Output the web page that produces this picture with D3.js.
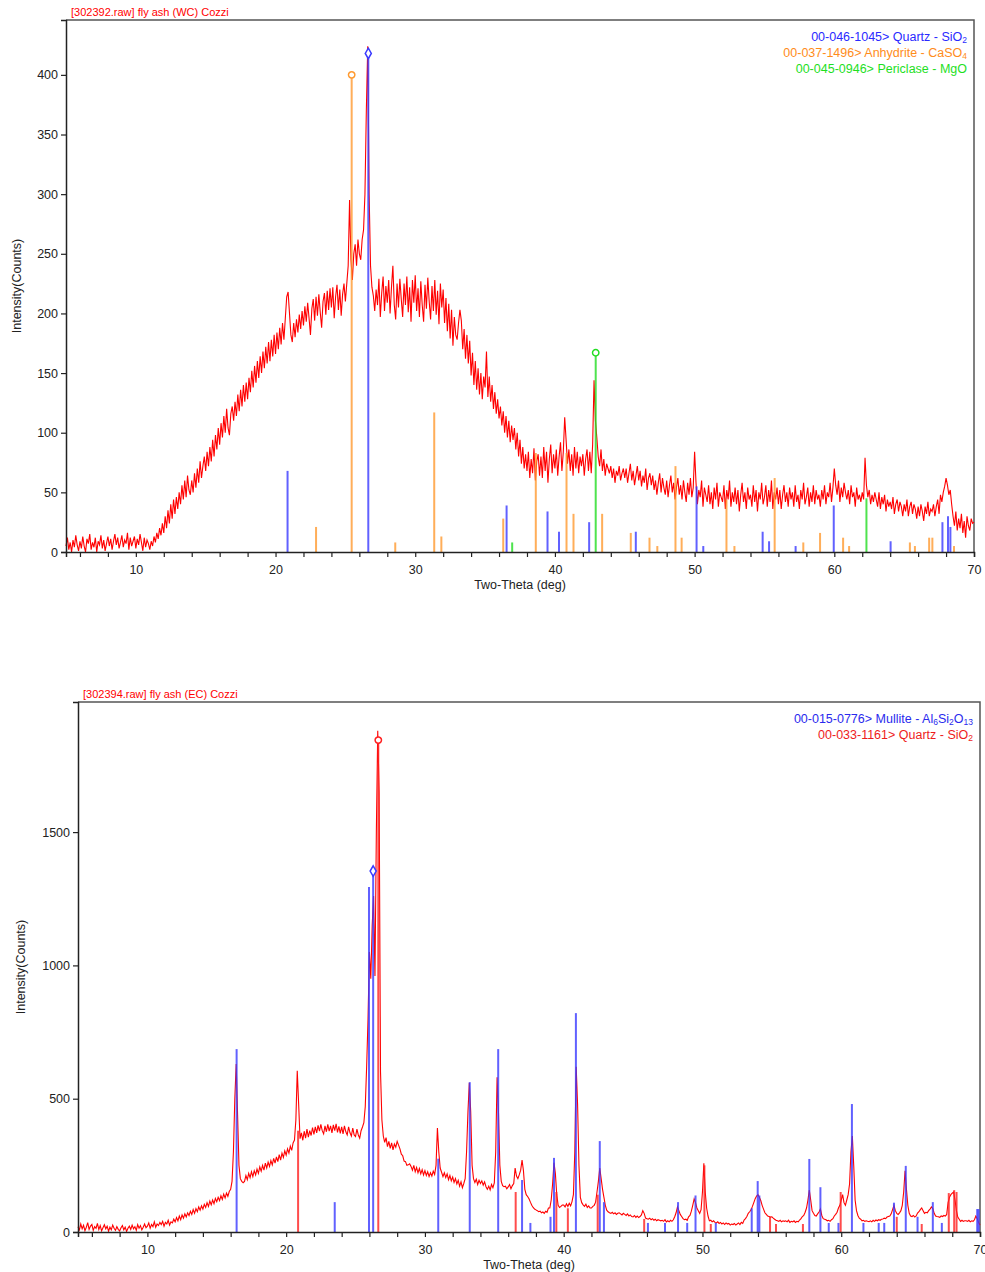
<!DOCTYPE html>
<html>
<head>
<meta charset="utf-8">
<script src="https://cdn.jsdelivr.net/npm/d3@7"></script>
<style>
body { margin: 0; background: #fff; }
text { font-family: "Liberation Sans", Arial, sans-serif; }
</style>
</head>
<body>
<script>
// scans start at 5 deg, one reading every 0.1 deg, up to 70 deg
var thetaStart = 5, thetaStep = 0.1;

// [302392.raw] fly ash (WC) - counts, one row per degree (5..69) + 70
var wcCounts = [
  5,12,2,8,0,10,4,14,6,1,
  9,3,13,5,0,11,7,15,2,8,
  4,12,0,9,6,14,3,10,1,7,
  13,5,11,2,9,15,6,12,3,8,
  14,4,10,7,16,2,12,5,9,13,
  3,11,6,15,8,1,12,4,10,7,
  2,9,5,13,8,16,11,20,14,24,
  16,30,20,35,24,40,28,44,32,46,
  36,50,40,56,44,60,46,64,52,48,
  60,50,66,54,70,58,76,62,72,80,
  68,84,72,88,76,94,80,98,86,104,
  90,108,96,114,100,120,104,98,116,122,
  110,126,114,132,118,136,122,140,126,142,
  128,146,134,152,138,156,142,160,146,164,
  150,168,154,172,158,176,160,178,164,182,
  166,184,170,188,174,192,178,196,214,218,
  200,182,176,192,180,195,184,199,187,202,
  190,206,193,209,196,182,204,212,194,214,
  198,216,201,188,210,217,199,219,203,221,
  205,222,196,214,224,203,220,198,216,225,
  210,225,240,295,245,228,250,258,240,262,
  250,245,262,270,300,370,424,300,240,222,
  215,202,220,207,229,197,217,231,202,223,
  209,228,200,222,240,207,195,225,205,229,
  212,197,225,207,231,201,222,193,228,209,
  232,202,221,197,227,207,193,224,204,230,
  210,195,223,202,228,199,219,191,225,205,
  220,192,213,185,208,179,203,173,197,182,
  178,192,203,194,170,187,162,182,158,177,
  148,167,140,160,136,154,132,150,128,147,
  138,168,130,147,126,140,120,134,116,128,
  112,122,106,118,100,114,96,110,92,106,
  94,104,86,100,80,94,74,88,70,82,
  68,84,62,78,66,87,60,76,82,64,
  80,62,88,68,84,58,78,90,66,82,
  70,86,64,80,92,68,84,113,94,74,
  86,68,82,64,88,70,84,66,80,72,
  82,64,78,86,68,84,66,90,144,110,
  96,80,72,86,68,78,64,74,70,66,
  72,62,70,58,68,64,72,60,66,70,
  62,70,58,66,74,60,68,56,64,72,
  60,68,55,64,58,70,52,62,66,56,
  64,52,60,48,58,66,50,62,54,48,
  60,46,56,64,50,58,44,54,62,48,
  56,44,60,50,42,58,48,62,46,54,
  84,58,40,52,46,60,38,54,48,42,
  56,40,50,36,54,44,58,38,50,46,
  42,56,36,52,44,60,38,50,42,54,
  40,52,34,48,58,42,50,36,54,44,
  48,38,56,42,52,34,50,44,58,40,
  46,56,38,52,42,60,36,50,44,54,
  40,52,36,48,56,42,50,38,54,44,
  50,38,56,42,48,36,52,44,58,40,
  46,54,38,50,42,56,40,52,44,48,
  38,52,44,56,40,50,46,58,42,54,
  70,56,48,60,42,54,46,58,50,44,
  52,40,56,46,50,38,54,44,48,42,
  50,44,79,56,46,52,40,48,42,50,
  44,38,50,36,46,40,48,34,44,38,
  42,36,46,32,40,44,34,42,38,30,
  40,34,44,30,38,42,32,40,36,28,
  38,30,40,34,26,38,32,42,30,36,
  34,40,30,38,44,32,48,42,50,55,
  62,56,48,52,40,30,22,34,18,28,
  20,32,16,26,12,30,22,18,28,24,
  25
];

// [302394.raw] fly ash (EC)
var ecCounts = [
  20,8,30,12,25,5,18,35,10,22,
  28,6,20,14,32,9,24,4,16,27,
  12,22,3,18,8,26,14,6,20,10,
  4,16,24,8,18,2,14,22,10,26,
  12,20,6,28,14,24,8,18,30,16,
  22,34,14,28,20,38,18,30,24,36,
  28,40,22,36,30,44,26,38,34,48,
  38,54,42,60,46,64,52,68,56,72,
  62,78,66,84,70,88,76,94,82,98,
  86,104,92,110,96,116,102,120,106,126,
  114,130,118,136,122,142,128,146,134,152,
  160,190,300,500,630,440,250,200,190,185,
  190,212,196,220,204,226,208,230,214,236,
  220,244,228,250,232,258,240,262,246,268,
  252,276,258,282,264,290,270,296,280,304,
  288,312,296,322,306,334,345,420,605,480,
  350,372,344,378,352,386,356,380,362,392,
  366,394,372,400,378,404,380,368,398,376,
  404,378,398,372,402,380,406,374,396,370,
  394,368,398,376,364,394,372,360,390,364,
  358,386,364,352,380,394,410,470,620,800,
  1050,950,1150,1260,960,1500,1880,1650,600,420,
  360,336,354,320,340,314,334,308,330,318,
  340,326,312,292,286,266,264,250,252,256,
  246,232,250,226,242,222,238,218,234,214,
  230,212,226,208,222,210,228,216,250,390,
  300,240,224,208,222,204,218,196,212,192,
  206,186,200,180,194,172,188,166,182,200,
  300,450,560,450,250,200,186,198,178,194,
  182,192,176,188,170,160,172,158,178,166,
  184,300,580,450,250,190,174,170,172,162,
  169,178,162,174,182,240,210,200,215,232,
  270,230,160,140,133,125,112,100,92,86,
  83,80,76,78,72,75,70,78,74,90,
  90,120,180,260,220,140,100,92,96,101,
  101,94,106,96,108,98,114,140,300,620,
  480,250,130,110,102,96,104,92,98,90,
  90,96,100,112,150,190,240,200,160,130,
  100,82,76,72,70,74,68,72,66,70,
  72,68,64,70,66,62,68,60,64,58,
  57,62,55,60,54,58,64,80,70,52,
  50,48,52,46,50,44,48,42,46,44,
  42,44,40,46,38,42,38,44,40,46,
  57,72,94,80,66,58,50,46,48,44,
  57,62,78,100,124,110,90,80,70,84,
  150,258,150,90,60,42,44,38,42,36,
  34,38,32,36,30,34,28,34,30,32,
  26,30,28,32,26,30,34,28,36,32,
  45,50,58,70,76,83,96,110,125,135,
  140,130,118,100,86,72,66,60,58,56,
  57,52,48,44,42,40,44,38,42,40,
  42,38,44,36,40,38,42,36,40,38,
  45,50,58,62,74,90,120,157,120,80,
  70,62,60,68,75,86,62,50,48,46,
  42,44,40,46,50,60,66,74,90,100,
  120,140,110,100,120,140,180,300,360,250,
  120,80,62,52,48,42,44,40,42,40,
  39,42,38,44,40,45,42,46,44,48,
  49,52,50,56,58,60,68,84,100,80,
  70,66,72,80,100,150,230,160,100,70,
  60,58,62,56,60,71,76,84,90,80,
  70,74,72,80,86,94,88,70,60,58,
  57,55,60,58,62,60,66,110,130,140,
  146,150,120,80,56,48,40,44,40,42,
  42,40,44,38,42,40,46,60,50,36,
  26
];

// reference patterns [2theta, intensity]
var quartzWC = [[20.86,68],[26.64,418],[36.54,39],[39.47,34],[40.29,17],[42.45,25],[45.79,17],
  [50.14,55],[50.62,5],[54.87,17],[55.33,9],[57.23,5],[59.96,39],[64.03,9],[67.74,25],[68.14,30],[68.31,21]];
var anhydriteWC = [[22.9,21],[25.45,400],[28.57,8],[31.36,117],[31.87,13],[36.3,28],[38.63,83],[40.83,83],
  [41.33,32],[43.38,32],[45.43,16],[46.77,12],[47.33,5],[48.63,72],[49.07,12],[52.28,44],[52.85,5],
  [55.73,62],[57.78,8],[58.98,16],[60.63,12],[61.06,5],[65.41,8],[65.77,5],[66.79,12],[67.02,12],[68.57,5]];
var periclaseWC = [[36.94,8],[42.92,167],[62.3,45]];

var mulliteEC = [[16.43,686],[23.5,112],[25.97,1294],[26.27,1354],[30.96,275],[33.23,562],[35.28,686],
  [37.0,195],[37.6,34],[39.05,57],[39.3,278],[40.88,821],[42.6,341],[42.9,112],[46.07,34],[47.3,34],
  [48.24,112],[48.9,34],[49.5,137],[50.96,34],[53.55,89],[53.98,191],[54.1,137],[57.7,274],[58.5,168],
  [59.1,34],[59.8,34],[60.77,480],[61.6,34],[62.7,34],[63.1,34],[63.8,110],[64.65,248],[65.5,57],
  [66.6,112],[67.25,34],[69.8,86],[69.9,86]];
var quartzEC = [[20.86,380],[26.64,1845],[36.54,150],[39.47,150],[40.3,89],[42.45,140],[45.8,49],
  [50.14,250],[50.6,30],[54.87,57],[55.3,30],[57.24,30],[59.96,150],[64.0,57],[65.8,30],
  [67.75,146],[68.14,157],[68.31,150]];

var xTicks = d3.range(6, 71, 2);
var yTicksWC = d3.range(0, 401, 50);
var yTicksEC = [0, 500, 1000, 1500];

var svg = d3.select("body").append("svg")
  .attr("width", 985)
  .attr("height", 1272);

function drawChart(o) {
  var g = svg.append("g");

  var x = d3.scaleLinear().domain([5, 70]).range([o.left, o.right]);
  var y = d3.scaleLinear().domain([0, o.yMax]).range([o.bottom, o.top]);

  // frame (top + right)
  g.append("path")
    .attr("d", "M" + o.left + "," + o.top + "H" + o.right + "V" + o.bottom)
    .attr("fill", "none").attr("stroke", "#555").attr("stroke-width", 1.5);

  // measured pattern
  var line = d3.line()
    .x(function (d, i) { return x(thetaStart + i * thetaStep); })
    .y(function (d) { return y(d); });

  g.append("path")
    .datum(o.counts)
    .attr("d", line)
    .attr("fill", "none")
    .attr("stroke", "#ff0000")
    .attr("stroke-width", 1.1);

  // stick patterns
  o.sticks.forEach(function (s) {
    g.selectAll(null)
      .data(s.data)
      .enter().append("line")
      .attr("x1", function (d) { return x(d[0]); })
      .attr("x2", function (d) { return x(d[0]); })
      .attr("y1", y(0))
      .attr("y2", function (d) { return y(d[1]); })
      .attr("stroke", s.color)
      .attr("stroke-width", 2)
      .attr("opacity", 0.8);

    var top = s.data.reduce(function (a, b) { return b[1] > a[1] ? b : a; });
    g.append("path")
      .attr("d", d3.symbol().type(s.marker).size(32)())
      .attr("transform", "translate(" + x(top[0]) + "," + y(top[1]) + ")")
      .attr("fill", "#fff")
      .attr("stroke", s.color)
      .attr("stroke-width", 1.5);
  });

  // axes
  var xAxis = d3.axisBottom(x)
    .tickValues(xTicks)
    .tickSize(5)
    .tickFormat(function (d) { return d % 10 === 0 ? d : ""; });

  var xAxisGroup = g.append("g")
    .attr("class", "x axis")
    .attr("transform", "translate(0," + o.bottom + ")")
    .call(xAxis);

  var yAxis = d3.axisLeft(y).tickValues(o.yTicks).tickSize(5).tickFormat(d3.format("d"));

  var yAxisGroup = g.append("g")
    .attr("class", "y axis")
    .attr("transform", "translate(" + o.left + ",0)")
    .call(yAxis);

  [xAxisGroup, yAxisGroup].forEach(function (a) {
    a.select(".domain").attr("stroke", "#222").attr("stroke-width", 1.5);
    a.selectAll(".tick line").attr("stroke", "#222").attr("stroke-width", 1.2);
    a.selectAll("text").attr("font-size", 12.5).attr("fill", "#222")
      .attr("font-family", '"Liberation Sans", Arial, sans-serif');
  });
  xAxisGroup.selectAll("text").attr("dy", "1.1em");
  // drop the empty labels on the minor ticks
  xAxisGroup.selectAll(".tick text").filter(function (d) { return d % 10 !== 0; }).remove();

  // titles
  g.append("text")
    .attr("x", o.left + 5).attr("y", o.top - 4)
    .attr("font-size", 11).attr("fill", "#ff0000")
    .text(o.title);

  g.append("text")
    .attr("x", (o.left + o.right) / 2).attr("y", o.bottom + 37)
    .attr("text-anchor", "middle").attr("font-size", 12.5).attr("fill", "#222")
    .text("Two-Theta (deg)");

  g.append("text")
    .attr("transform", "translate(" + o.yLabelX + "," + (o.top + o.bottom) / 2 + ") rotate(-90)")
    .attr("text-anchor", "middle").attr("font-size", 12.5).attr("fill", "#222")
    .text("Intensity(Counts)");

  // legend, "_n" marks a subscript
  o.sticks.forEach(function (s, i) {
    var t = g.append("text")
      .attr("x", o.right - 7)
      .attr("y", o.top + 21 + i * 16)
      .attr("text-anchor", "end")
      .attr("font-size", 12.5)
      .attr("fill", s.textColor);
    var lowered = false;
    s.label.split(/(_\d+)/).forEach(function (part) {
      if (part === "") return;
      if (part[0] === "_") {
        t.append("tspan").attr("font-size", 8.5).attr("dy", 2).text(part.slice(1));
        lowered = true;
      } else {
        t.append("tspan").attr("dy", lowered ? -2 : null).text(part);
        lowered = false;
      }
    });
  });
}

drawChart({
  left: 66, right: 974, top: 20, bottom: 552,
  yMax: 446, yTicks: yTicksWC, yLabelX: 21,
  counts: wcCounts,
  title: "[302392.raw] fly ash (WC) Cozzi",
  sticks: [
    { data: quartzWC, color: "#3a3aff", textColor: "#2a2aff", marker: d3.symbolDiamond, label: "00-046-1045> Quartz - SiO_2" },
    { data: anhydriteWC, color: "#ff9a30", textColor: "#ff8c1a", marker: d3.symbolCircle, label: "00-037-1496> Anhydrite - CaSO_4" },
    { data: periclaseWC, color: "#22dd22", textColor: "#1ee01e", marker: d3.symbolCircle, label: "00-045-0946> Periclase - MgO" }
  ]
});

drawChart({
  left: 78, right: 980, top: 702, bottom: 1232,
  yMax: 1988, yTicks: yTicksEC, yLabelX: 25,
  counts: ecCounts,
  title: "[302394.raw] fly ash (EC) Cozzi",
  sticks: [
    { data: mulliteEC, color: "#3a3aff", textColor: "#2a2aee", marker: d3.symbolDiamond, label: "00-015-0776> Mullite - Al_6Si_2O_13" },
    { data: quartzEC, color: "#ff2020", textColor: "#ee1c1c", marker: d3.symbolCircle, label: "00-033-1161> Quartz - SiO_2" }
  ]
});
</script>
</body>
</html>
